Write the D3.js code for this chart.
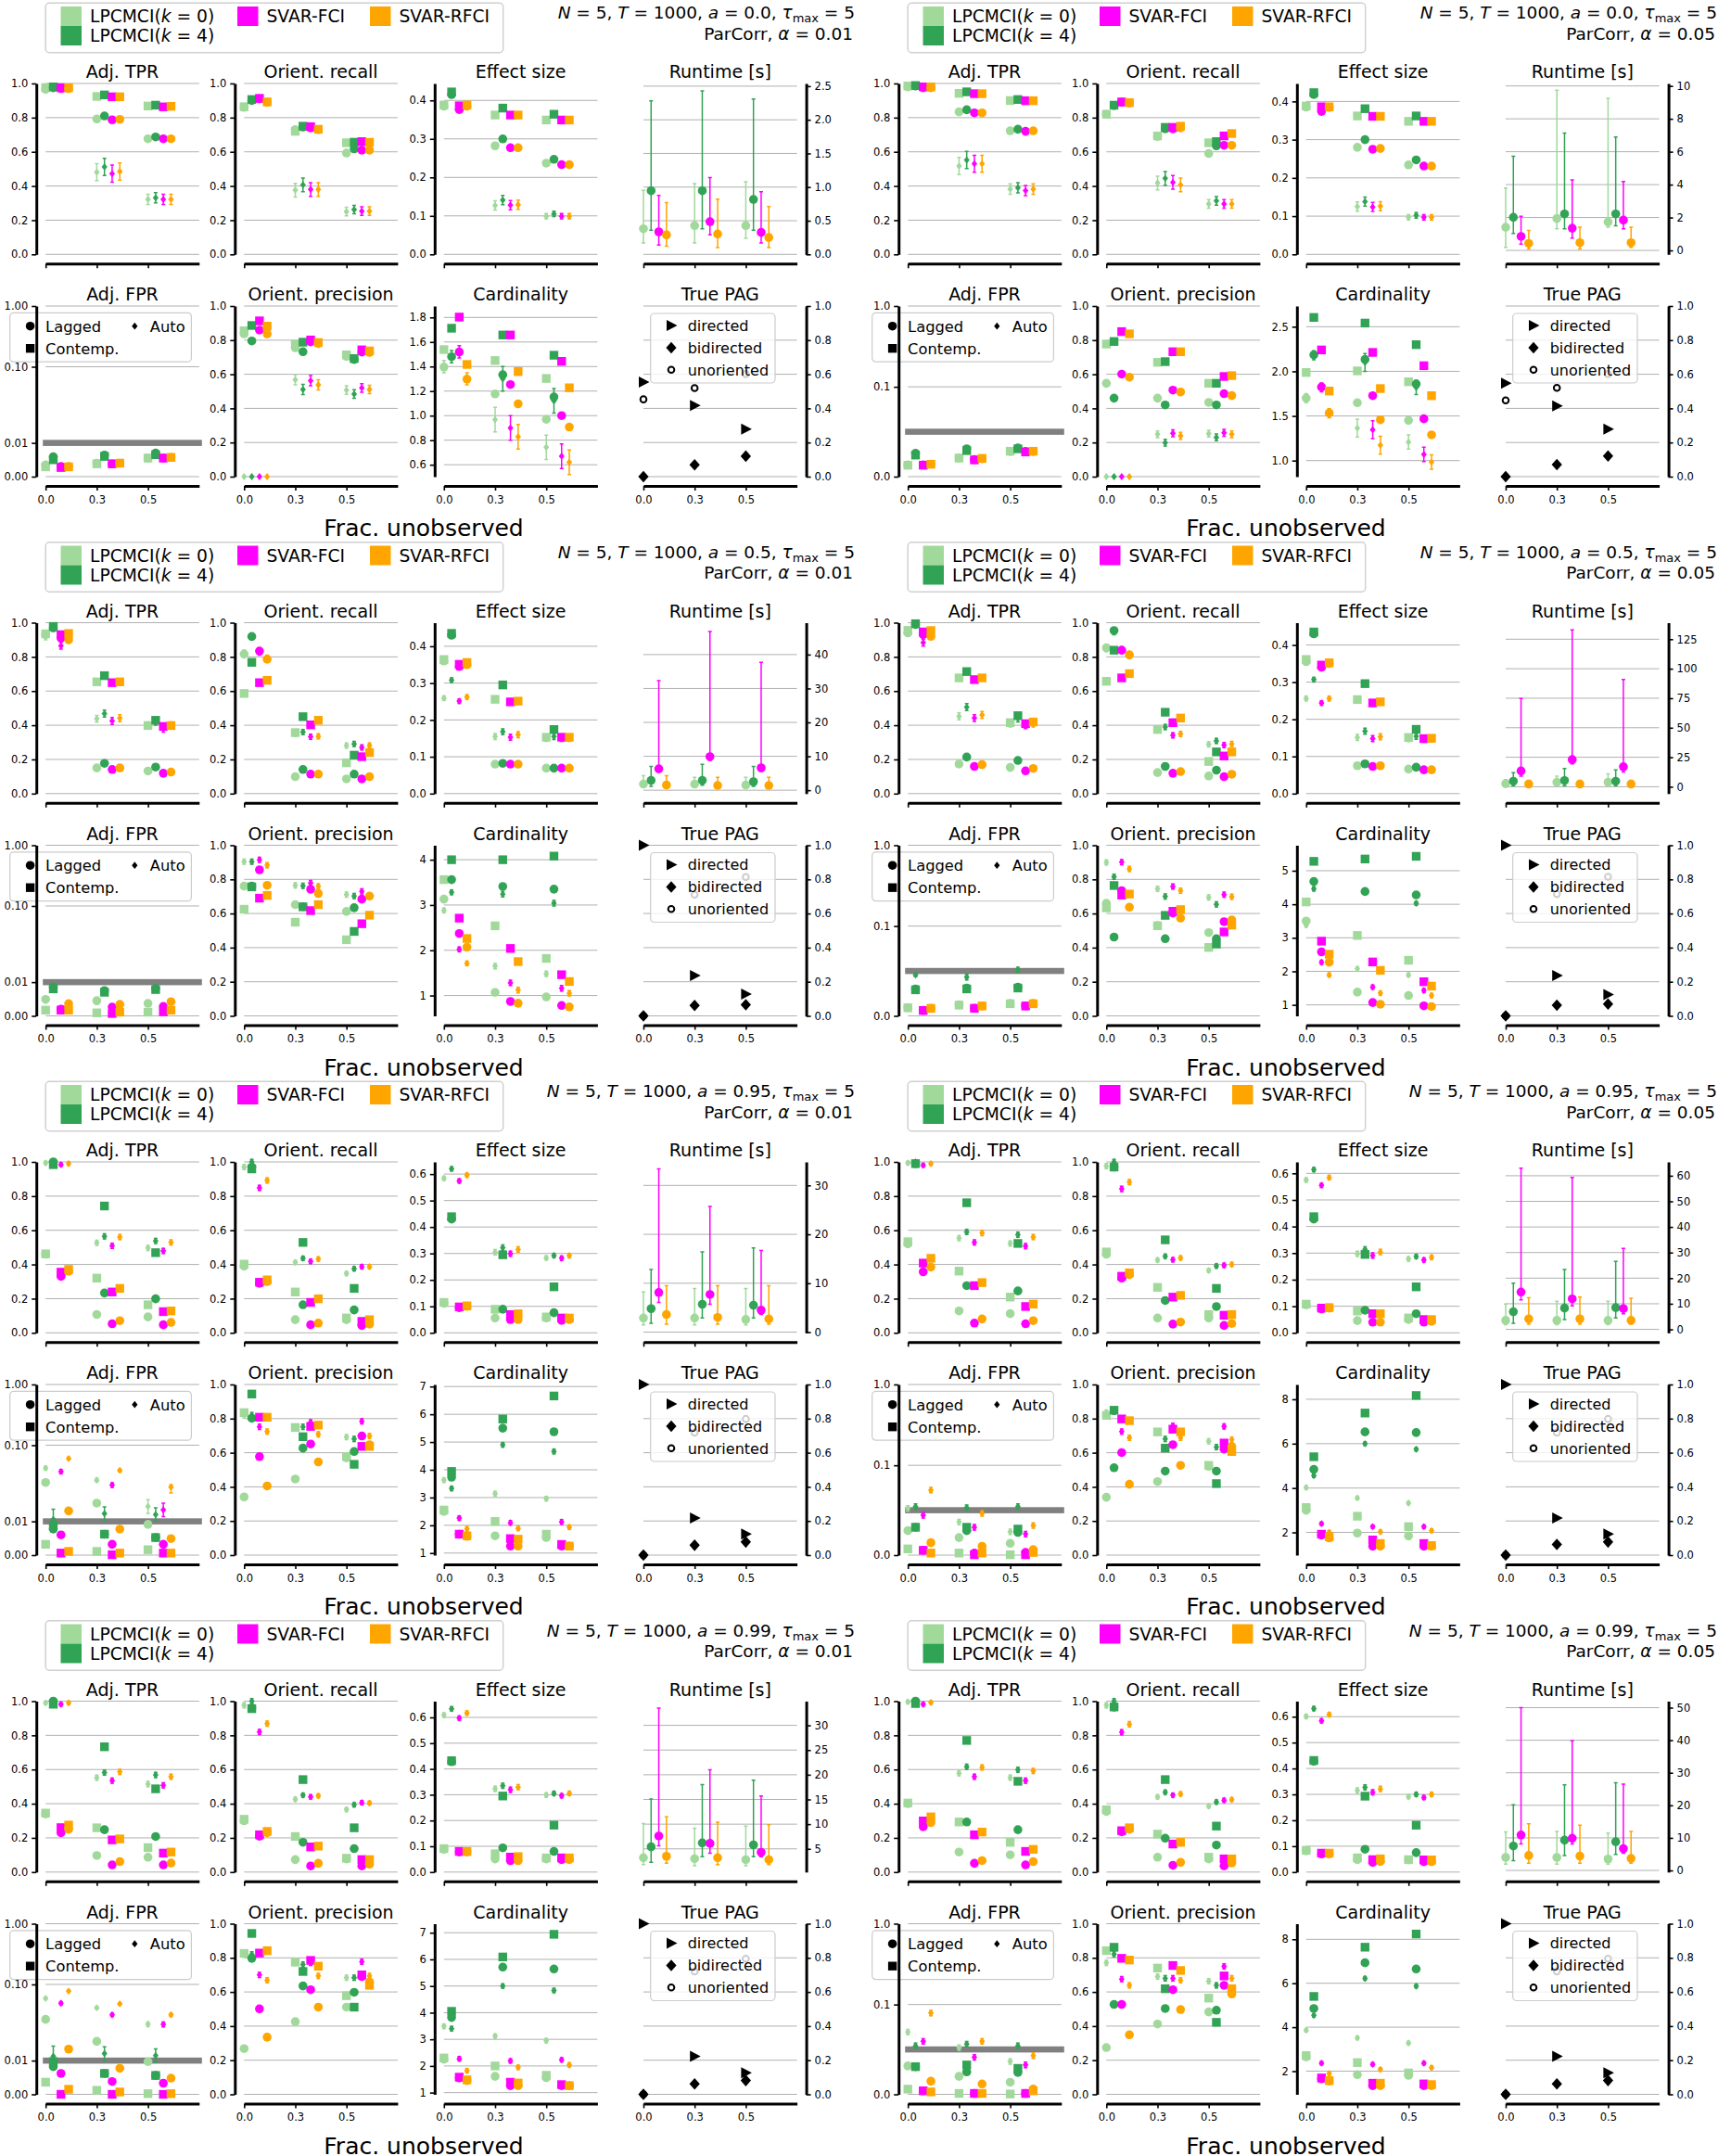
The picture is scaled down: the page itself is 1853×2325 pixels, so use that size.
<!DOCTYPE html>
<html>
<head>
<meta charset="utf-8">
<script src="https://cdn.jsdelivr.net/npm/d3@7/dist/d3.min.js"></script>
<style>
  body { margin: 0; background: #fff; }
  svg text { font-family: 'DejaVu Sans', sans-serif; fill: #000; }
</style>
</head>
<body>
<svg id="fig" width="1853" height="2325"></svg>
<script>
// ---------------- data (index: [group][frac][method]) ----------------
// groups: a = 0.0, 0.0, 0.5, 0.5, 0.95, 0.95, 0.99, 0.99 ; alpha = 0.01 / 0.05
// methods: LPCMCI(k=0), LPCMCI(k=4), SVAR-FCI, SVAR-RFCI
const FRAC_LABELS = ['0.0', '0.3', '0.5'];
const A_LABELS = ['0.0', '0.0', '0.5', '0.5', '0.95', '0.95', '0.99', '0.99'];
const ALPHAS = [0.01, 0.05, 0.01, 0.05, 0.01, 0.05, 0.01, 0.05];
const METHOD_LABELS = ['LPCMCI', 'LPCMCI', 'SVAR-FCI', 'SVAR-RFCI'];
const METHOD_K = ['0', '4', null, null];

const TPR_LAG = [
  [[0.965,0.975,0.97,0.97],[0.792,0.81,0.787,0.79],[0.676,0.687,0.676,0.676]],
  [[0.98,0.985,0.975,0.975],[0.834,0.846,0.828,0.828],[0.723,0.732,0.72,0.723]],
  [[0.93,0.97,0.91,0.90],[0.15,0.177,0.141,0.15],[0.132,0.155,0.119,0.126]],
  [[0.94,0.99,0.93,0.92],[0.173,0.214,0.159,0.169],[0.153,0.194,0.133,0.147]],
  [[0.46,1.0,0.33,0.36],[0.107,0.233,0.053,0.071],[0.093,0.199,0.047,0.061]],
  [[0.52,0.99,0.357,0.385],[0.128,0.276,0.057,0.081],[0.112,0.245,0.053,0.071]],
  [[0.34,1.0,0.23,0.25],[0.097,0.248,0.042,0.061],[0.087,0.208,0.042,0.053]],
  [[0.40,1.0,0.265,0.289],[0.117,0.293,0.051,0.067],[0.101,0.248,0.042,0.061]]
];
const TPR_CON = [
  [[0.976,0.98,0.975,0.975],[0.924,0.933,0.922,0.922],[0.868,0.873,0.863,0.866]],
  [[0.985,0.988,0.98,0.98],[0.942,0.951,0.94,0.94],[0.9,0.906,0.899,0.899]],
  [[0.935,0.978,0.93,0.937],[0.654,0.69,0.649,0.654],[0.398,0.429,0.393,0.398]],
  [[0.955,0.994,0.946,0.954],[0.677,0.714,0.667,0.677],[0.415,0.456,0.409,0.419]],
  [[0.462,0.984,0.355,0.371],[0.32,0.742,0.239,0.26],[0.164,0.469,0.124,0.128]],
  [[0.533,0.99,0.408,0.436],[0.361,0.761,0.276,0.294],[0.209,0.523,0.154,0.168]],
  [[0.345,0.982,0.26,0.275],[0.259,0.733,0.188,0.194],[0.143,0.487,0.111,0.117]],
  [[0.404,0.986,0.299,0.323],[0.293,0.77,0.218,0.234],[0.174,0.531,0.121,0.133]]
];
const TPR_AUT = [
  [[0.97,0.975,0.97,0.97],[0.481,0.512,0.472,0.485],[0.322,0.331,0.322,0.322]],
  [[0.98,0.985,0.978,0.978],[0.517,0.552,0.53,0.53],[0.382,0.39,0.373,0.382]],
  [[0.92,0.97,0.865,0.90],[0.438,0.468,0.425,0.441],[0.40,0.42,0.38,0.40]],
  [[0.95,0.99,0.883,0.93],[0.452,0.506,0.442,0.46],[0.41,0.44,0.40,0.41]],
  [[0.994,0.99,0.984,0.99],[0.527,0.564,0.509,0.56],[0.497,0.538,0.479,0.529]],
  [[0.994,1.0,0.98,0.99],[0.554,0.59,0.529,0.584],[0.523,0.574,0.507,0.56]],
  [[0.99,1.0,0.982,0.99],[0.552,0.582,0.535,0.586],[0.515,0.568,0.507,0.558]],
  [[0.996,1.0,0.982,0.992],[0.578,0.616,0.558,0.612],[0.552,0.598,0.535,0.592]]
];
const ERR_TPR = [[0.01,0.05,0.03],[0.01,0.05,0.03],[0.02,0.02,0.02],[0.02,0.02,0.02],[0.01,0.015,0.015],[0.01,0.015,0.015],[0.01,0.015,0.015],[0.01,0.015,0.015]];

const ORR_LAG = [
  [[0.86,0.9,0.91,0.89],[0.73,0.745,0.74,0.73],[0.593,0.617,0.61,0.61]],
  [[0.82,0.87,0.89,0.885],[0.69,0.735,0.735,0.74],[0.59,0.635,0.638,0.638]],
  [[0.816,0.919,0.834,0.786],[0.099,0.141,0.114,0.114],[0.086,0.114,0.086,0.099]],
  [[0.853,0.954,0.839,0.812],[0.123,0.159,0.119,0.129],[0.103,0.137,0.099,0.113]],
  [[0.39,0.97,0.29,0.30],[0.077,0.164,0.047,0.057],[0.077,0.134,0.043,0.051]],
  [[0.46,0.97,0.32,0.34],[0.087,0.189,0.051,0.063],[0.087,0.154,0.043,0.055]],
  [[0.30,0.96,0.21,0.23],[0.073,0.174,0.036,0.051],[0.077,0.137,0.036,0.046]],
  [[0.355,0.965,0.235,0.25],[0.087,0.198,0.04,0.057],[0.077,0.158,0.036,0.053]]
];
const ORR_CON = [
  [[0.864,0.906,0.913,0.892],[0.72,0.75,0.747,0.732],[0.653,0.656,0.66,0.656]],
  [[0.82,0.873,0.892,0.888],[0.693,0.743,0.743,0.75],[0.653,0.66,0.693,0.707]],
  [[0.586,0.768,0.649,0.663],[0.357,0.45,0.402,0.429],[0.18,0.225,0.216,0.24]],
  [[0.657,0.839,0.677,0.702],[0.375,0.476,0.415,0.442],[0.188,0.244,0.22,0.244]],
  [[0.402,0.959,0.296,0.31],[0.239,0.529,0.178,0.199],[0.087,0.26,0.067,0.077]],
  [[0.473,0.97,0.331,0.351],[0.266,0.544,0.209,0.219],[0.107,0.26,0.103,0.107]],
  [[0.309,0.956,0.218,0.238],[0.208,0.541,0.147,0.152],[0.081,0.259,0.073,0.073]],
  [[0.364,0.966,0.242,0.259],[0.222,0.541,0.164,0.174],[0.087,0.269,0.077,0.077]]
];
const ORR_AUT = [
  [[0.86,0.9,0.91,0.89],[0.376,0.407,0.38,0.38],[0.25,0.262,0.253,0.253]],
  [[0.82,0.87,0.89,0.885],[0.418,0.445,0.421,0.407],[0.295,0.313,0.295,0.295]],
  [[0.82,0.92,0.83,0.79],[0.35,0.36,0.333,0.335],[0.281,0.29,0.27,0.281]],
  [[0.85,0.95,0.84,0.81],[0.38,0.389,0.341,0.349],[0.288,0.308,0.284,0.29]],
  [[0.97,1.0,0.848,0.892],[0.412,0.436,0.418,0.432],[0.347,0.375,0.387,0.387]],
  [[0.976,1.0,0.842,0.882],[0.426,0.448,0.428,0.438],[0.365,0.391,0.395,0.4]],
  [[0.976,1.0,0.82,0.869],[0.426,0.45,0.44,0.446],[0.366,0.394,0.406,0.404]],
  [[0.976,1.0,0.818,0.865],[0.44,0.467,0.45,0.457],[0.386,0.41,0.42,0.424]]
];
const ERR_ORR = [[0.01,0.04,0.025],[0.01,0.04,0.025],[0.02,0.015,0.015],[0.02,0.015,0.015],[0.015,0.012,0.012],[0.015,0.012,0.012],[0.015,0.012,0.012],[0.015,0.012,0.012]];

const EFF_LAG = [
  [[0.385,0.415,0.376,0.385],[0.282,0.3,0.277,0.277],[0.237,0.247,0.233,0.233]],
  [[0.385,0.418,0.374,0.384],[0.28,0.3,0.275,0.277],[0.234,0.247,0.231,0.231]],
  [[0.36,0.43,0.345,0.35],[0.08,0.082,0.08,0.08],[0.069,0.069,0.069,0.069]],
  [[0.355,0.43,0.34,0.35],[0.075,0.08,0.073,0.075],[0.066,0.071,0.064,0.064]],
  [[0.112,0.43,0.095,0.1],[0.056,0.089,0.05,0.05],[0.056,0.076,0.047,0.05]],
  [[0.105,0.428,0.09,0.093],[0.046,0.085,0.04,0.04],[0.05,0.072,0.04,0.043]],
  [[0.088,0.428,0.078,0.078],[0.051,0.094,0.044,0.044],[0.051,0.08,0.048,0.048]],
  [[0.082,0.428,0.07,0.07],[0.048,0.088,0.037,0.041],[0.047,0.075,0.04,0.04]]
];
const EFF_CON = [
  [[0.388,0.422,0.386,0.388],[0.362,0.38,0.362,0.362],[0.349,0.364,0.349,0.349]],
  [[0.388,0.423,0.386,0.386],[0.362,0.381,0.361,0.361],[0.348,0.362,0.348,0.348]],
  [[0.364,0.435,0.351,0.356],[0.256,0.295,0.249,0.251],[0.153,0.174,0.153,0.153]],
  [[0.361,0.435,0.346,0.352],[0.253,0.296,0.244,0.247],[0.151,0.173,0.148,0.149]],
  [[0.115,0.439,0.098,0.102],[0.089,0.295,0.069,0.072],[0.06,0.174,0.056,0.056]],
  [[0.108,0.437,0.093,0.095],[0.082,0.295,0.072,0.072],[0.056,0.173,0.05,0.05]],
  [[0.091,0.432,0.08,0.08],[0.071,0.295,0.058,0.06],[0.055,0.182,0.055,0.055]],
  [[0.084,0.431,0.073,0.073],[0.055,0.293,0.048,0.051],[0.048,0.181,0.047,0.047]]
];
const EFF_AUT = [
  [[0.385,0.415,0.38,0.385],[0.127,0.141,0.128,0.129],[0.099,0.105,0.099,0.099]],
  [[0.385,0.418,0.38,0.384],[0.125,0.138,0.124,0.126],[0.097,0.102,0.097,0.097]],
  [[0.259,0.308,0.251,0.262],[0.155,0.168,0.153,0.16],[0.15,0.155,0.15,0.15]],
  [[0.256,0.307,0.244,0.256],[0.151,0.168,0.148,0.153],[0.148,0.154,0.146,0.147]],
  [[0.584,0.62,0.574,0.596],[0.305,0.322,0.299,0.315],[0.283,0.292,0.282,0.292]],
  [[0.575,0.614,0.555,0.584],[0.297,0.314,0.291,0.304],[0.278,0.287,0.274,0.284]],
  [[0.609,0.633,0.597,0.617],[0.323,0.335,0.319,0.329],[0.299,0.305,0.296,0.305]],
  [[0.601,0.631,0.584,0.608],[0.315,0.327,0.308,0.321],[0.291,0.3,0.288,0.3]]
];
const ERR_EFF = [[0.004,0.012,0.007],[0.004,0.012,0.007],[0.006,0.008,0.008],[0.006,0.008,0.008],[0.008,0.01,0.008],[0.008,0.01,0.008],[0.008,0.01,0.008],[0.008,0.01,0.008]];
const EFF_TOP = [0.444, 0.447, 0.464, 0.46, 0.646, 0.643, 0.663, 0.66];
const EFF_TICKS = [
  [0,0.1,0.2,0.3,0.4],[0,0.1,0.2,0.3,0.4],[0,0.1,0.2,0.3,0.4],[0,0.1,0.2,0.3,0.4],
  [0,0.1,0.2,0.3,0.4,0.5,0.6],[0,0.1,0.2,0.3,0.4,0.5,0.6],[0,0.1,0.2,0.3,0.4,0.5,0.6],[0,0.1,0.2,0.3,0.4,0.5,0.6]
];

const RT_VAL = [
  [[0.38,0.945,0.335,0.29],[0.427,0.945,0.486,0.303],[0.427,0.817,0.326,0.25]],
  [[1.41,2.01,0.85,0.43],[1.94,2.22,1.35,0.47],[1.73,2.22,1.84,0.47]],
  [[1.8,2.9,6.3,1.5],[1.8,2.9,9.9,1.4],[1.5,2.5,6.6,1.4]],
  [[2.6,4.7,13.4,2.3],[3.8,5.3,23,2.3],[3.8,4.7,17,2.3]],
  [[2.9,4.8,8.1,3.6],[2.9,5.7,7.7,3.0],[2.6,5.5,4.5,2.7]],
  [[3.5,6.9,14.6,4.1],[3.5,8.3,11.9,4.1],[3.5,8.5,8.1,3.5]],
  [[3.2,5.4,7.6,3.5],[3.0,6.2,6.1,3.2],[2.8,5.8,4.3,2.8]],
  [[4.0,7.5,10.9,4.6],[4.0,9.3,9.9,4.4],[3.5,8.8,6.7,3.7]]
];
const RT_LO = [
  [[0.17,0.36,0.14,0.12],[0.17,0.38,0.29,0.1],[0.24,0.36,0.17,0.1]],
  [[0.19,1.03,0.38,0.09],[1.32,1.32,0.75,0.09],[1.41,1.5,1.32,0.19]],
  [[1.1,1.1,5.5,0.6],[1.1,1.5,8.8,0.8],[1.1,1.1,5.6,0.6]],
  [[0.3,0.9,9,0.5],[0.8,0.9,19.3,0.5],[0.8,0.9,12.6,0.5]],
  [[1.5,1.8,6.1,1.6],[1.5,2.9,5.7,1.6],[1.5,2.9,3.6,1.6]],
  [[1.8,2.4,11.5,2.0],[1.8,3.8,9.2,2.0],[1.8,4.5,6.1,2.0]],
  [[1.8,2.3,5.6,2.1],[1.6,3.4,4.1,1.8],[1.6,3.4,3.4,1.8]],
  [[1.9,3.0,8.1,2.2],[1.9,4.6,8.1,2.2],[1.9,4.9,5.3,2.2]]
];
const RT_HI = [
  [[0.95,2.28,0.876,0.77],[1.05,2.43,1.14,0.82],[1.08,2.31,0.93,0.71]],
  [[3.8,5.73,2.07,1.22],[9.74,7.14,4.29,1.41],[9.25,6.9,4.19,1.41]],
  [[4.3,7.0,32.3,4.3],[3.8,7.6,46.8,3.8],[3.8,7.0,37.7,3.8]],
  [[6,12,74.8,5.5],[9,15.5,133,5.5],[11,14.3,90.8,5.5]],
  [[8.2,12.8,33.4,9.5],[8.9,16.4,25.7,9.5],[8.9,17.2,16.7,9.5]],
  [[9.9,18,63,12.3],[11,23.4,59.3,12.6],[11,26.6,31.6,12.2]],
  [[10.1,15.1,33.5,11.5],[9.2,18,21,10.4],[9.6,18.9,15.7,9.9]],
  [[11.8,20.2,50,14.3],[12,26.3,39.8,13.9],[11.5,26.9,26.5,12]]
];
const RT_YLIM = [[0,2.54],[-0.24,10.15],[-1,49.4],[-5.8,139],[-0.14,34.8],[-1.35,65.4],[0.3,34.9],[-0.5,52]];
const RT_TICKS = [
  [0,0.5,1,1.5,2,2.5],[0,2,4,6,8,10],[0,10,20,30,40],[0,25,50,75,100,125],
  [0,10,20,30],[0,10,20,30,40,50,60],[5,10,15,20,25,30],[0,10,20,30,40,50]
];

const FPR_LAG = [
  [[0.0035,0.0059,0.003,0.003],[0.004,0.0064,0.0038,0.004],[0.0055,0.007,0.0055,0.0057]],
  [[0.013,0.026,0.013,0.014],[0.021,0.031,0.019,0.02],[0.028,0.032,0.028,0.028]],
  [[0.0049,0.0085,0.002,0.0036],[0.0045,0.0075,0.0026,0.0034],[0.0037,0.0081,0.0028,0.0042]],
  [[0.0092,0.03,0.0061,0.0084],[0.0123,0.031,0.0084,0.0111],[0.0138,0.032,0.0111,0.0138]],
  [[0.0243,0.0077,0.006,0.0131],[0.0154,0.0062,0.0032,0.0077],[0.0091,0.0052,0.0032,0.0049]],
  [[0.0272,0.031,0.0053,0.0138],[0.0195,0.0272,0.0023,0.0099],[0.0131,0.0253,0.003,0.0061]],
  [[0.0266,0.0082,0.0062,0.0134],[0.0157,0.0062,0.0038,0.0077],[0.0097,0.0056,0.0033,0.0048]],
  [[0.0316,0.0308,0.0039,0.0146],[0.02,0.025,0.001,0.0116],[0.0135,0.0243,0.001,0.0058]]
];
const FPR_CON = [
  [[0.0029,0.005,0.0027,0.0029],[0.0038,0.006,0.0038,0.004],[0.0055,0.0065,0.0055,0.0057]],
  [[0.0127,0.024,0.0127,0.0138],[0.0206,0.029,0.0186,0.0203],[0.0283,0.031,0.0275,0.0283]],
  [[0.0017,0.008,0.0017,0.0017],[0.0009,0.007,0.0007,0.0011],[0.0011,0.0078,0.0012,0.0017]],
  [[0.009,0.029,0.006,0.0084],[0.012,0.03,0.0084,0.011],[0.0135,0.031,0.011,0.0135]],
  [[0.0032,0.0088,0.0006,0.0011],[0.0011,0.0062,0.0001,0.0006],[0.0016,0.0052,0.0006,0.0006]],
  [[0.0069,0.031,0.0053,0.0023],[0.0023,0.031,0.0004,0.0023],[0.0004,0.029,0.0004,0.003]],
  [[0.0036,0.0097,0.0,0.0015],[0.0012,0.0062,0.0,0.0007],[0.0002,0.0056,0.0,0.0002]],
  [[0.0058,0.0308,0.0039,0.0027],[0.001,0.0327,0.001,0.001],[0.0004,0.0289,0.001,0.0039]]
];
const FPR_AUT = [
  [[0.0032,0.0055,0.003,0.003],[0.004,0.0062,0.0038,0.004],[0.0055,0.0068,0.0055,0.0057]],
  [[0.013,0.025,0.013,0.014],[0.021,0.03,0.019,0.02],[0.028,0.032,0.028,0.028]],
  [[0.0045,0.0085,0.002,0.0036],[0.0042,0.0075,0.0026,0.0034],[0.0037,0.008,0.0028,0.0042]],
  [[0.0092,0.0456,0.0061,0.0084],[0.0123,0.0431,0.0084,0.0111],[0.0138,0.0513,0.0111,0.0138]],
  [[0.042,0.0106,0.0368,0.0602],[0.0266,0.0123,0.0221,0.0384],[0.0144,0.012,0.0134,0.0204]],
  [[0.0521,0.054,0.0444,0.0724],[0.0368,0.0528,0.031,0.0464],[0.026,0.054,0.0234,0.033]],
  [[0.0589,0.0113,0.049,0.0776],[0.0412,0.0121,0.0316,0.0478],[0.0221,0.0115,0.022,0.0316]],
  [[0.0694,0.054,0.059,0.0905],[0.052,0.0559,0.0412,0.059],[0.0366,0.054,0.0328,0.0431]]
];
const ERR_FPR = [[0.0005,0.0008,0.0008],[0.002,0.002,0.002],[0.0005,0.0008,0.0008],[0.002,0.003,0.003],[0.003,0.002,0.002],[0.003,0.003,0.003],[0.003,0.002,0.002],[0.003,0.003,0.003]];
const FPR_TICKS_01 = [0, 0.01, 0.1, 1], FPR_LABELS_01 = ['0.00', '0.01', '0.10', '1.00'];
const FPR_TICKS_05 = [0, 0.1, 1], FPR_LABELS_05 = ['0.0', '0.1', '1.0'];

const ORP_LAG = [
  [[0.837,0.795,0.859,0.837],[0.755,0.732,0.79,0.78],[0.705,0.687,0.73,0.728]],
  [[0.547,0.46,0.601,0.583],[0.46,0.42,0.507,0.496],[0.435,0.42,0.486,0.475]],
  [[0.76,0.76,0.856,0.765],[0.652,0.64,0.742,0.717],[0.612,0.634,0.684,0.702]],
  [[0.66,0.462,0.734,0.637],[0.53,0.452,0.603,0.573],[0.488,0.452,0.552,0.562]],
  [[0.341,0.802,0.577,0.405],[0.446,0.627,0.651,0.546],[0.57,0.607,0.698,0.647]],
  [[0.339,0.512,0.601,0.415],[0.431,0.492,0.647,0.526],[0.52,0.492,0.621,0.637]],
  [[0.268,0.797,0.501,0.335],[0.426,0.635,0.613,0.511],[0.511,0.598,0.69,0.659]],
  [[0.274,0.527,0.527,0.349],[0.412,0.503,0.613,0.497],[0.483,0.493,0.639,0.588]]
];
const ORP_CON = [
  [[0.855,0.886,0.913,0.882],[0.774,0.788,0.801,0.786],[0.714,0.692,0.743,0.737]],
  [[0.777,0.792,0.85,0.837],[0.67,0.674,0.732,0.732],[0.547,0.547,0.587,0.592]],
  [[0.625,0.756,0.69,0.706],[0.549,0.639,0.617,0.652],[0.446,0.495,0.54,0.59]],
  [[0.633,0.764,0.708,0.714],[0.528,0.589,0.613,0.623],[0.401,0.421,0.492,0.532]],
  [[0.835,0.944,0.808,0.808],[0.748,0.694,0.754,0.762],[0.577,0.532,0.637,0.637]],
  [[0.819,0.849,0.798,0.788],[0.722,0.627,0.738,0.722],[0.526,0.419,0.657,0.607]],
  [[0.826,0.943,0.828,0.842],[0.775,0.72,0.785,0.751],[0.578,0.511,0.7,0.639]],
  [[0.842,0.862,0.797,0.787],[0.74,0.619,0.755,0.726],[0.564,0.422,0.694,0.619]]
];
const ORP_AUT = [
  [[0,0,0,0],[0.568,0.511,0.562,0.538],[0.507,0.484,0.52,0.511]],
  [[0,0,0,0],[0.248,0.199,0.254,0.239],[0.252,0.23,0.257,0.248]],
  [[0.904,0.904,0.915,0.883],[0.765,0.762,0.778,0.76],[0.711,0.702,0.729,0.702]],
  [[0.899,0.815,0.901,0.861],[0.744,0.7,0.758,0.734],[0.694,0.653,0.71,0.698]],
  [[0.82,0.82,0.752,0.724],[0.75,0.752,0.778,0.708],[0.692,0.681,0.784,0.698]],
  [[0.835,0.84,0.724,0.688],[0.72,0.681,0.758,0.688],[0.667,0.633,0.754,0.677]],
  [[0.82,0.82,0.7,0.669],[0.77,0.761,0.771,0.694],[0.684,0.684,0.777,0.694]],
  [[0.771,0.822,0.675,0.639],[0.69,0.68,0.68,0.669],[0.663,0.639,0.75,0.68]]
];
const ERR_ORP = [[0,0.03,0.025],[0,0.02,0.02],[0.015,0.015,0.015],[0.015,0.015,0.015],[0.015,0.015,0.015],[0.015,0.015,0.015],[0.015,0.015,0.015],[0.015,0.015,0.015]];

const CRD_LAG = [
  [[1.396,1.48,1.518,1.298],[1.177,1.333,1.253,1.096],[0.97,1.152,1.0,0.907]],
  [[1.70,2.185,1.824,1.533],[1.648,2.133,1.727,1.457],[1.45,1.859,1.468,1.288]],
  [[3.13,3.56,2.37,2.07],[1.07,3.41,0.87,0.83],[0.97,3.35,0.78,0.75]],
  [[3.5,4.68,2.58,2.27],[1.38,4.38,1.07,1.02],[1.28,4.28,0.97,0.95]],
  [[2.5,3.73,1.68,1.6],[1.62,5.5,1.25,1.25],[1.56,5.37,1.25,1.25]],
  [[3.0,4.84,1.88,1.75],[1.97,6.53,1.38,1.38],[1.84,6.5,1.38,1.38]],
  [[2.25,3.82,1.55,1.45],[1.61,5.71,1.26,1.26],[1.56,5.64,1.26,1.26]],
  [[2.65,4.85,1.65,1.55],[1.84,6.93,1.34,1.34],[1.81,6.65,1.34,1.34]]
];
const CRD_CON = [
  [[1.538,1.712,1.803,1.417],[1.449,1.657,1.657,1.359],[1.303,1.492,1.442,1.227]],
  [[1.987,2.604,2.24,1.779],[2.005,2.541,2.212,1.807],[1.883,2.299,2.063,1.727]],
  [[3.56,4.0,2.71,2.26],[2.54,4.0,2.04,1.75],[1.82,4.08,1.46,1.31]],
  [[4.07,5.28,2.9,2.51],[3.07,5.35,2.28,2.03],[2.33,5.43,1.69,1.56]],
  [[2.55,3.94,1.68,1.62],[2.14,5.83,1.52,1.5],[1.68,6.66,1.31,1.25]],
  [[3.12,5.41,1.92,1.8],[2.73,7.38,1.66,1.5],[2.26,8.17,1.5,1.41]],
  [[2.3,4.05,1.58,1.48],[2.0,6.09,1.39,1.36],[1.65,6.94,1.3,1.26]],
  [[2.71,5.4,1.69,1.57],[2.39,7.64,1.45,1.45],[1.92,8.24,1.42,1.39]]
];
const CRD_AUT = [
  [[1.40,1.48,1.52,1.30],[0.967,1.30,0.899,0.828],[0.742,1.12,0.67,0.62]],
  [[1.70,2.18,1.82,1.53],[1.364,2.10,1.346,1.173],[1.208,1.82,1.069,0.983]],
  [[2.88,3.28,2.02,1.71],[1.65,3.24,1.28,1.12],[1.48,3.04,1.16,1.05]],
  [[3.38,4.46,2.27,1.89],[2.08,4.38,1.53,1.35],[1.89,4.03,1.43,1.28]],
  [[3.63,3.33,2.26,1.87],[3.14,4.9,2.09,1.89],[2.96,4.66,2.12,1.93]],
  [[4.02,4.56,2.39,2.0],[3.55,6.0,2.26,2.03],[3.32,5.75,2.26,2.08]],
  [[3.49,3.4,2.27,1.82],[3.12,5.0,2.19,1.95],[2.95,4.83,2.23,2.04]],
  [[3.86,4.54,2.36,1.89],[3.51,6.22,2.31,2.08],[3.28,5.87,2.36,2.16]]
];
const ERR_CRD = [[0.05,0.1,0.1],[0.05,0.1,0.08],[0.05,0.06,0.06],[0.06,0.06,0.06],[0.08,0.08,0.08],[0.08,0.08,0.08],[0.08,0.08,0.08],[0.08,0.08,0.08]];
const CRD_YLIM = [[0.503,1.893],[0.82,2.732],[0.551,4.32],[0.672,5.76],[0.926,7.074],[0.977,8.667],[0.935,7.338],[0.945,8.709]];
const CRD_TICKS = [
  [0.6,0.8,1.0,1.2,1.4,1.6,1.8],[1.0,1.5,2.0,2.5],[1,2,3,4],[1,2,3,4,5],
  [1,2,3,4,5,6,7],[2,4,6,8],[1,2,3,4,5,6,7],[2,4,6,8]
];

// True PAG fractions per group, [frac]
const PAG_DIR = [[0.555,0.417,0.279],[0.547,0.415,0.279],[1.0,0.236,0.128],[1.0,0.236,0.125],[1.0,0.218,0.123],[1.0,0.218,0.123],[1.0,0.223,0.126],[1.0,0.223,0.126]];
const PAG_BID = [[0,0.069,0.12],[0,0.071,0.121],[0,0.061,0.065],[0,0.0625,0.069],[0,0.058,0.077],[0,0.0625,0.077],[0,0.061,0.081],[0,0.061,0.081]];
const PAG_UNO = [[0.453,0.519,0.601],[0.447,0.52,0.601],[0,0.711,0.814],[0,0.714,0.815],[0,0.718,0.798],[0,0.718,0.798],[0,0.72,0.795],[0,0.72,0.795]];
const UNIT_TICKS = [0, 0.2, 0.4, 0.6, 0.8, 1.0];

// ---------------- layout ----------------
const COLORS = ['#a1d99b', '#31a354', '#ff00ff', '#ffa500'];
const OFFSETS = [0, 0.15, 0.3, 0.45];
const PANEL_X = [49.2, 263.3, 478.8, 694];
const PANEL_W = 165.6;
const ROW_TOP = [90, 330], ROW_BOT = [274.3, 514];
const TITLE_Y = [84, 324];
const GROUP_X = [0, 930], GROUP_DY = 581.5;

const svg = d3.select('#fig');
const f1 = d3.format('.1f');

const SYM = {
  lag: d3.symbol().type(d3.symbolCircle).size(72)(),
  con: d3.symbol().type(d3.symbolSquare).size(88)(),
  aut: 'M0,-3.9L3.1,0L0,3.9L-3.1,0Z'
};

function linScale(dom, row) {
  return d3.scaleLinear().domain(dom).range([ROW_BOT[row], ROW_TOP[row]]);
}

// matplotlib-like symlog (linthresh = 2*alpha, linscale = 1)
function fprScale(alpha, row) {
  const L = 2 * alpha, a = 1 / 0.9;
  const t = v => v <= L ? v * a : L * (a + Math.log10(v / L));
  const lin = d3.scaleLinear().domain([0, t(1)]).range([ROW_BOT[row], ROW_TOP[row]]);
  const s = v => lin(t(Math.max(v, 0)));
  s.domain = () => [0, 1];
  s.range = () => lin.range();
  s.copy = () => s;
  return s;
}

function drawGrid(pg, xs, ys, ticks) {
  pg.append('g').selectAll('line').data(ticks).join('line')
    .attr('x1', xs(0)).attr('x2', xs(3))
    .attr('y1', d => ys(d)).attr('y2', d => ys(d))
    .attr('stroke', '#b0b0b0').attr('stroke-width', 1);
}

function drawAxes(pg, xs, ys, ticks, fmt, row, right) {
  const yAxis = (right ? d3.axisRight(ys) : d3.axisLeft(ys))
    .tickValues(ticks).tickFormat(fmt).tickSize(5).tickPadding(4).tickSizeOuter(0);
  const ya = pg.append('g')
    .attr('transform', `translate(${right ? xs(3) + 10 : xs(0) - 10},0)`)
    .call(yAxis);
  const xAxis = d3.axisBottom(xs).tickValues([0, 1, 2])
    .tickFormat(row === 1 ? (d => FRAC_LABELS[d]) : () => '')
    .tickSize(5).tickPadding(5.5).tickSizeOuter(0);
  const xa = pg.append('g').attr('transform', `translate(0,${ROW_BOT[row] + 10})`).call(xAxis);
  [ya, xa].forEach(a => {
    a.attr('font-family', 'DejaVu Sans, sans-serif').attr('font-size', 11.5);
    a.select('.domain').attr('stroke', '#000').attr('stroke-width', 3);
    a.selectAll('.tick line').attr('stroke', '#000').attr('stroke-width', 1.6);
  });
}

function panelTitle(pg, xs, row, title) {
  pg.append('text').attr('x', xs(1.5)).attr('y', TITLE_Y[row])
    .attr('text-anchor', 'middle').attr('font-size', 19).text(title);
}

function errPath(x, y1, y2) {
  return `M${x},${y1}V${y2}M${x - 2},${y1}h4M${x - 2},${y2}h4`;
}

function panelTriple(g, row, col, title, ys, ticks, fmt, lag, con, aut, err, opts = {}) {
  const pg = g.append('g');
  const xs = d3.scaleLinear().domain([0, 3]).range([PANEL_X[col], PANEL_X[col] + PANEL_W]);
  drawGrid(pg, xs, ys, ticks);
  if (opts.alpha) {
    pg.append('rect').attr('x', xs(0) - 3).attr('width', PANEL_W + 6)
      .attr('y', ys(opts.alpha) - 3.3).attr('height', 6.6).attr('fill', '#808080');
  }
  const methods = pg.selectAll('g.method').data([0, 1, 2, 3]).join('g').attr('class', 'method');
  methods.each(function (m) {
    const mg = d3.select(this);
    const recs = [];
    for (let i = 0; i < 3; i++) {
      recs.push({ i, k: 'lag', v: lag[i][m] });
      recs.push({ i, k: 'con', v: con[i][m] });
      recs.push({ i, k: 'aut', v: aut[i][m], e: err[i] });
    }
    mg.selectAll('path.err').data(recs.filter(r => r.e > 0)).join('path').attr('class', 'err')
      .attr('d', r => errPath(xs(r.i + OFFSETS[m]), ys(r.v - r.e), ys(r.v + r.e)))
      .attr('stroke', COLORS[m]).attr('stroke-width', 1.5).attr('fill', 'none');
    mg.selectAll('path.mk').data(recs).join('path').attr('class', 'mk')
      .attr('d', r => SYM[r.k])
      .attr('transform', r => `translate(${xs(r.i + OFFSETS[m])},${ys(r.v)})`)
      .attr('fill', COLORS[m]);
  });
  if (opts.legend) fprLegend(pg);
  drawAxes(pg, xs, ys, ticks, fmt, row, false);
  panelTitle(pg, xs, row, title);
}

function fprLegend(pg) {
  const lg = pg.append('g');
  lg.append('rect').attr('x', 10.7).attr('y', 337.3).attr('width', 195.7).attr('height', 52.9)
    .attr('rx', 4).attr('fill', '#fff').attr('fill-opacity', 0.8)
    .attr('stroke', '#cccccc').attr('stroke-width', 1.2);
  const items = [
    { k: 'lag', x: 32.6, y: 351.7, label: 'Lagged' },
    { k: 'aut', x: 145.3, y: 351.7, label: 'Auto' },
    { k: 'con', x: 32.6, y: 375.7, label: 'Contemp.' }
  ];
  lg.selectAll('path').data(items).join('path')
    .attr('d', d => SYM[d.k]).attr('transform', d => `translate(${d.x},${d.y})`).attr('fill', '#000');
  lg.selectAll('text').data(items).join('text')
    .attr('x', d => d.x + 16.5).attr('y', d => d.y + 6).attr('font-size', 16.3).text(d => d.label);
}

function panelRuntime(g, gi) {
  const pg = g.append('g');
  const xs = d3.scaleLinear().domain([0, 3]).range([PANEL_X[3], PANEL_X[3] + PANEL_W]);
  const ys = linScale(RT_YLIM[gi], 0);
  const ticks = RT_TICKS[gi];
  drawGrid(pg, xs, ys, ticks);
  const methods = pg.selectAll('g.method').data([0, 1, 2, 3]).join('g').attr('class', 'method');
  methods.each(function (m) {
    const mg = d3.select(this);
    const recs = [0, 1, 2].map(i => ({ i, v: RT_VAL[gi][i][m], lo: RT_LO[gi][i][m], hi: RT_HI[gi][i][m] }));
    mg.selectAll('path.err').data(recs).join('path').attr('class', 'err')
      .attr('d', r => errPath(xs(r.i + OFFSETS[m]), ys(r.lo), ys(r.hi)))
      .attr('stroke', COLORS[m]).attr('stroke-width', 1.5).attr('fill', 'none');
    mg.selectAll('path.mk').data(recs).join('path').attr('class', 'mk')
      .attr('d', SYM.lag)
      .attr('transform', r => `translate(${xs(r.i + OFFSETS[m])},${ys(r.v)})`)
      .attr('fill', COLORS[m]);
  });
  const fmt = ticks.some(t => t % 1 !== 0) ? f1 : d3.format('d');
  drawAxes(pg, xs, ys, ticks, fmt, 0, true);
  panelTitle(pg, xs, 0, 'Runtime [s]');
}

const PAG_SHAPES = {
  dir: 'M-5,-6L6.5,0L-5,6Z',
  bid: 'M0,-6.3L5.6,0L0,6.3L-5.6,0Z'
};

function pagMarker(sel, k) {
  if (k === 'uno') {
    sel.append('circle').attr('r', 3.3).attr('fill', '#fff').attr('stroke', '#000').attr('stroke-width', 2);
  } else {
    sel.append('path').attr('d', PAG_SHAPES[k]).attr('fill', '#000');
  }
}

function panelPag(g, gi) {
  const pg = g.append('g');
  const xs = d3.scaleLinear().domain([0, 3]).range([PANEL_X[3], PANEL_X[3] + PANEL_W]);
  const ys = linScale([0, 1], 1);
  drawGrid(pg, xs, ys, UNIT_TICKS);
  const recs = [];
  // unoriented first so that the bidirected diamond covers it where both are 0
  [['uno', PAG_UNO], ['dir', PAG_DIR], ['bid', PAG_BID]].forEach(([k, arr]) => {
    arr[gi].forEach((v, i) => recs.push({ k, i, v }));
  });
  pg.selectAll('g.pm').data(recs).join('g').attr('class', 'pm')
    .attr('transform', r => `translate(${xs(r.i)},${ys(r.v)})`)
    .each(function (r) { pagMarker(d3.select(this), r.k); });
  // legend
  const lg = pg.append('g');
  lg.append('rect').attr('x', 701.7).attr('y', 338).attr('width', 134.3).attr('height', 75)
    .attr('rx', 4).attr('fill', '#fff').attr('fill-opacity', 0.8)
    .attr('stroke', '#cccccc').attr('stroke-width', 1.2);
  const items = [
    { k: 'dir', y: 351, label: 'directed' },
    { k: 'bid', y: 375, label: 'bidirected' },
    { k: 'uno', y: 398.7, label: 'unoriented' }
  ];
  lg.selectAll('g.li').data(items).join('g').attr('class', 'li')
    .attr('transform', d => `translate(724,${d.y})`)
    .each(function (d) {
      const s = d3.select(this);
      pagMarker(s, d.k);
      s.append('text').attr('x', 17.7).attr('y', 5.8).attr('font-size', 16).text(d.label);
    });
  drawAxes(pg, xs, ys, UNIT_TICKS, f1, 1, true);
  panelTitle(pg, xs, 1, 'True PAG');
}

function drawHeader(g, gi) {
  g.append('rect').attr('x', 49.2).attr('y', 3.3).attr('width', 493.5).attr('height', 53.4)
    .attr('rx', 4).attr('fill', '#fff').attr('stroke', '#d0d0d0').attr('stroke-width', 1.5);
  const entries = [
    { m: 0, x: 65.5, y: 7 }, { m: 1, x: 65.5, y: 28 },
    { m: 2, x: 256, y: 7 }, { m: 3, x: 399, y: 7 }
  ];
  g.selectAll('rect.patch').data(entries).join('rect').attr('class', 'patch')
    .attr('x', d => d.x).attr('y', d => d.y).attr('width', 22.5).attr('height', 21)
    .attr('fill', d => COLORS[d.m]);
  g.selectAll('text.lab').data(entries).join('text').attr('class', 'lab')
    .attr('x', d => d.x + 31.5).attr('y', d => d.y + 17.2).attr('font-size', 18.7)
    .each(function (d) {
      const t = d3.select(this);
      if (METHOD_K[d.m] === null) { t.text(METHOD_LABELS[d.m]); return; }
      t.append('tspan').text(METHOD_LABELS[d.m] + '(');
      t.append('tspan').attr('font-style', 'italic').text('k');
      t.append('tspan').text(' = ' + METHOD_K[d.m] + ')');
    });
  // title
  const t1 = g.append('text').attr('x', 922).attr('y', 20).attr('text-anchor', 'end').attr('font-size', 18.5);
  const it = s => t1.append('tspan').attr('font-style', 'italic').text(s);
  const nt = s => t1.append('tspan').text(s);
  it('N'); nt(' = 5, '); it('T'); nt(' = 1000, '); it('a'); nt(' = ' + A_LABELS[gi] + ', ');
  it('\u03c4');
  t1.append('tspan').attr('font-size', 13).attr('dy', 4).text('max');
  t1.append('tspan').attr('dy', -4).text(' = 5');
  const t2 = g.append('text').attr('x', 920).attr('y', 42.5).attr('text-anchor', 'end').attr('font-size', 18.5);
  t2.append('tspan').text('ParCorr, ');
  t2.append('tspan').attr('font-style', 'italic').text('\u03b1');
  t2.append('tspan').text(' = ' + ALPHAS[gi].toFixed(2));
}

// ---------------- draw ----------------
for (let gi = 0; gi < 8; gi++) {
  const g = svg.append('g')
    .attr('transform', `translate(${GROUP_X[gi % 2]},${Math.floor(gi / 2) * GROUP_DY})`);
  drawHeader(g, gi);

  panelTriple(g, 0, 0, 'Adj. TPR', linScale([0, 1], 0), UNIT_TICKS, f1,
    TPR_LAG[gi], TPR_CON[gi], TPR_AUT[gi], ERR_TPR[gi]);
  panelTriple(g, 0, 1, 'Orient. recall', linScale([0, 1], 0), UNIT_TICKS, f1,
    ORR_LAG[gi], ORR_CON[gi], ORR_AUT[gi], ERR_ORR[gi]);
  panelTriple(g, 0, 2, 'Effect size', linScale([0, EFF_TOP[gi]], 0), EFF_TICKS[gi], f1,
    EFF_LAG[gi], EFF_CON[gi], EFF_AUT[gi], ERR_EFF[gi]);
  panelRuntime(g, gi);

  const a05 = ALPHAS[gi] === 0.05;
  const fTicks = a05 ? FPR_TICKS_05 : FPR_TICKS_01;
  const fLabels = a05 ? FPR_LABELS_05 : FPR_LABELS_01;
  panelTriple(g, 1, 0, 'Adj. FPR', fprScale(ALPHAS[gi], 1), fTicks, (d, i) => fLabels[i],
    FPR_LAG[gi], FPR_CON[gi], FPR_AUT[gi], ERR_FPR[gi], { alpha: ALPHAS[gi], legend: true });
  panelTriple(g, 1, 1, 'Orient. precision', linScale([0, 1], 1), UNIT_TICKS, f1,
    ORP_LAG[gi], ORP_CON[gi], ORP_AUT[gi], ERR_ORP[gi]);
  const cFmt = gi < 2 ? f1 : d3.format('d');
  panelTriple(g, 1, 2, 'Cardinality', linScale(CRD_YLIM[gi], 1), CRD_TICKS[gi], cFmt,
    CRD_LAG[gi], CRD_CON[gi], CRD_AUT[gi], ERR_CRD[gi]);
  panelPag(g, gi);

  g.append('text').attr('x', 457).attr('y', 578).attr('text-anchor', 'middle')
    .attr('font-size', 25).text('Frac. unobserved');
}
</script>
</body>
</html>
